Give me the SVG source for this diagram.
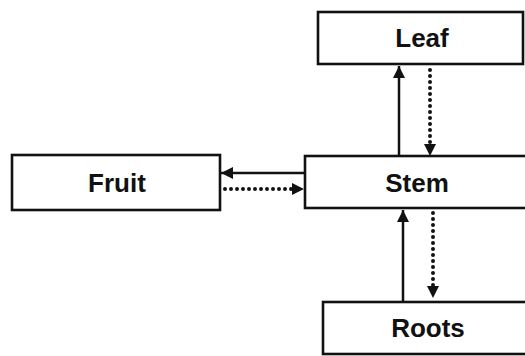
<svg xmlns="http://www.w3.org/2000/svg" width="525" height="356" viewBox="0 0 525 356">
<defs>
<style>
.box{fill:#fff;stroke:#111;stroke-width:2.6}
.lbl{font-family:"Liberation Sans",Arial,sans-serif;font-weight:bold;font-size:26px;fill:#111;text-anchor:middle}
.solid{stroke:#111;stroke-width:2.5;fill:none}
.dot{stroke:#111;stroke-width:4;fill:none;stroke-linecap:round;stroke-dasharray:0 6}
</style>
<marker id="ah" viewBox="0 0 12 12" refX="12" refY="6" markerWidth="12" markerHeight="12" markerUnits="userSpaceOnUse" orient="auto">
<path d="M0,0 L12,6 L0,12 Z" fill="#111"/>
</marker>
</defs>
<rect width="525" height="356" fill="#fff"/>
<g id="leaf"><rect class="box" x="318" y="12" width="205" height="52"/><text class="lbl" x="422" y="47">Leaf</text></g>
<g id="fruit"><rect class="box" x="12" y="155" width="208" height="55"/><text class="lbl" x="117" y="192">Fruit</text></g>
<g id="stem"><rect class="box" x="305" y="156" width="222" height="52"/><text class="lbl" x="417" y="192">Stem</text></g>
<g id="roots"><rect class="box" x="323" y="302" width="204" height="52"/><text class="lbl" x="428" y="337">Roots</text></g>
<g id="connectors">
<line class="solid" x1="399" y1="155" x2="399" y2="66" marker-end="url(#ah)"/>
<line class="dot" x1="430" y1="70" x2="430" y2="146"/>
<path d="M424,144 L436,144 L430,156 Z" fill="#111"/>
<line class="solid" x1="304" y1="173" x2="221" y2="173" marker-end="url(#ah)"/>
<line class="dot" x1="225" y1="189" x2="292" y2="189"/>
<path d="M292,183 L292,195 L304,189 Z" fill="#111"/>
<line class="solid" x1="403" y1="301" x2="403" y2="210" marker-end="url(#ah)"/>
<line class="dot" x1="433" y1="213" x2="433" y2="287"/>
<path d="M427,286 L439,286 L433,298 Z" fill="#111"/>
</g>
</svg>
